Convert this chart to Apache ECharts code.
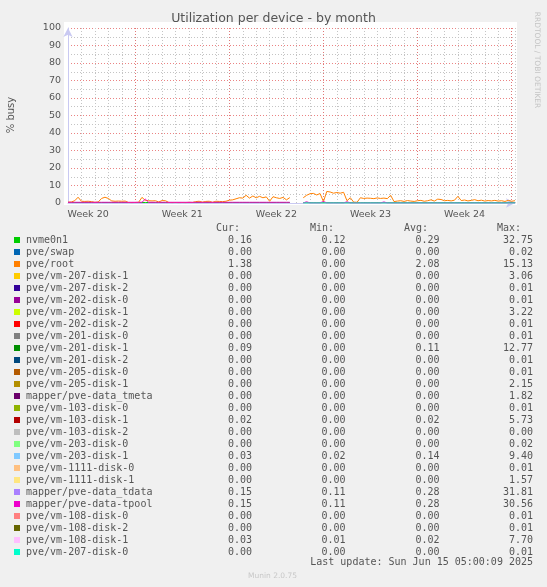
<!DOCTYPE html>
<html><head><meta charset="utf-8">
<script src="https://cdn.jsdelivr.net/npm/echarts@6/dist/echarts.min.js"></script>
<style>html,body{margin:0;padding:0;background:#f0f0f0;}#c{width:547px;height:587px;}</style>
</head><body><div id="c"></div>
<script>
// ---- legend table data ----
const deviceNames = ['nvme0n1','pve/swap','pve/root','pve/vm-207-disk-1','pve/vm-207-disk-2','pve/vm-202-disk-0','pve/vm-202-disk-1','pve/vm-202-disk-2','pve/vm-201-disk-0','pve/vm-201-disk-1','pve/vm-201-disk-2','pve/vm-205-disk-0','pve/vm-205-disk-1','mapper/pve-data_tmeta','pve/vm-103-disk-0','pve/vm-103-disk-1','pve/vm-103-disk-2','pve/vm-203-disk-0','pve/vm-203-disk-1','pve/vm-1111-disk-0','pve/vm-1111-disk-1','mapper/pve-data_tdata','mapper/pve-data-tpool','pve/vm-108-disk-0','pve/vm-108-disk-2','pve/vm-108-disk-1','pve/vm-207-disk-0'];
const deviceColors = ['#00CC00','#0066B3','#FF8000','#FFCC00','#330099','#990099','#CCFF00','#FF0000','#808080','#008F00','#00487D','#B35A00','#B38F00','#6B006B','#8FB300','#B30000','#BEBEBE','#80FF80','#80C9FF','#FFC080','#FFE680','#AA80FF','#EE00CC','#FF8080','#666600','#FFBFFF','#00FFCC'];
const curValues = ['0.16','0.00','1.38','0.00','0.00','0.00','0.00','0.00','0.00','0.09','0.00','0.00','0.00','0.00','0.00','0.02','0.00','0.00','0.03','0.00','0.00','0.15','0.15','0.00','0.00','0.03','0.00'];
const minValues = ['0.12','0.00','0.00','0.00','0.00','0.00','0.00','0.00','0.00','0.00','0.00','0.00','0.00','0.00','0.00','0.00','0.00','0.00','0.02','0.00','0.00','0.11','0.11','0.00','0.00','0.01','0.00'];
const avgValues = ['0.29','0.00','2.08','0.00','0.00','0.00','0.00','0.00','0.00','0.11','0.00','0.00','0.00','0.00','0.00','0.02','0.00','0.00','0.14','0.00','0.00','0.28','0.28','0.00','0.00','0.02','0.00'];
const maxValues = ['32.75','0.02','15.13','3.06','0.01','0.01','3.22','0.01','0.01','12.77','0.01','0.01','2.15','1.82','0.01','5.73','0.00','0.02','9.40','0.01','1.57','31.81','30.56','0.01','0.01','7.70','0.01'];
const columnHeaders = ['Cur:','Min:','Avg:','Max:'];

// ---- axis labels ----
const weekLabels = ['Week 20','Week 21','Week 22','Week 23','Week 24'];
const weekCenters = [-3.5, 3.5, 10.5, 17.5, 24.5]; // days relative to Monday of week 21
const weekStarts = [0, 7, 14, 21, 28];
const yLabelEvery = 10;

// ---- time series (6-hour samples, day offset from start) ----
const startDay = -5, stepDay = 0.25;
const rootValues = [
0.5,0.6,1.3,3.3,1.0,0.9,1.0,0.8,0.4,0.6,
2.6,3.3,2.6,1.2,1.0,1.1,1.0,1.1,0.3,0.2,
0.3,0.4,3.2,1.5,1.3,1.2,1.3,0.6,1.4,1.3,
0.3,0.2,0.3,0.2,0.3,0.2,0.4,0.3,0.8,1.0,
0.5,0.9,1.0,0.4,1.0,0.9,0.8,1.0,1.6,1.8,
2.4,3.0,2.8,4.4,2.8,4.0,3.0,3.8,3.0,3.5,
1.0,3.6,3.0,2.6,3.2,1.8,3.1,null,null,null,
3.0,4.4,5.3,5.5,4.6,5.4,0.8,6.6,6.3,5.6,
6.0,5.6,6.1,1.3,3.0,0.5,0.4,3.0,2.6,2.8,
2.7,2.5,2.9,2.6,2.8,2.5,4.4,0.8,1.1,1.3,
0.9,1.4,1.1,0.9,1.3,1.5,1.0,1.3,1.8,1.1,
2.2,2.0,1.3,1.5,1.2,1.6,3.8,1.4,1.7,1.2,
1.5,1.9,1.3,1.6,1.1,1.4,1.2,1.5,1.1,1.3,
0.9,1.5,1.0,1.3];
const nvmeValues = [
0.3,0.3,0.3,0.3,0.3,0.3,0.3,0.3,0.3,0.3,
0.3,0.3,0.3,0.3,0.3,0.3,0.3,0.3,0.3,0.3,
0.3,0.3,0.3,0.3,0.3,0.3,0.3,0.3,0.3,0.3,
0.3,0.3,0.3,0.3,0.3,0.3,0.3,0.3,0.3,0.3,
0.3,0.3,0.3,0.3,0.3,0.3,0.3,0.3,0.3,0.3,
0.3,0.3,0.3,0.3,0.3,0.3,0.3,0.3,0.3,0.3,
0.3,0.3,0.3,0.3,0.3,0.3,0.3,null,null,null,
0.15,0.15,0.15,0.15,0.15,0.15,0.15,0.15,0.15,0.15,
0.15,0.15,0.15,0.15,0.15,0.15,0.15,0.15,0.15,0.15,
0.15,0.15,0.15,0.15,0.15,0.15,0.15,0.15,0.15,0.15,
0.15,0.15,0.15,0.15,0.15,0.15,0.15,0.15,0.15,0.15,
0.15,0.15,0.15,0.15,0.15,0.15,0.15,0.15,0.15,0.15,
0.15,0.15,0.15,0.15,0.15,0.15,0.15,0.15,0.15,0.15,
0.15,0.15,0.15,0.15];
const tpoolValues = [
0.4,0.4,0.4,0.4,0.4,0.4,0.4,0.4,0.4,0.4,
0.4,0.4,0.4,0.4,0.4,0.4,0.4,0.4,0.4,0.4,
0.4,0.4,0.4,2.2,0.4,0.4,0.4,0.4,0.4,0.4,
0.4,0.4,0.4,0.4,0.4,0.4,0.4,0.4,0.4,0.4,
0.4,0.4,0.4,0.4,0.4,0.4,0.4,0.4,0.4,0.4,
0.4,0.4,0.4,0.4,0.4,0.4,0.4,0.4,0.4,0.4,
0.4,0.4,0.4,0.4,0.4,0.4,0.4,null,null,null,
0.05,0.7,0.05,0.05,0.05,0.05,0.9,0.05,0.05,0.05,
0.05,0.05,0.05,0.7,0.05,0.05,0.05,0.05,0.05,0.05,
0.05,0.05,0.05,0.05,0.6,0.05,0.05,0.05,0.05,0.05,
0.05,0.05,0.05,0.05,0.05,0.05,0.05,0.05,0.05,0.05,
0.05,0.05,0.05,0.05,0.05,0.05,0.05,0.05,0.05,0.05,
0.05,0.05,0.05,0.05,0.05,0.05,0.05,0.05,0.05,0.05,
0.05,0.05,0.05,0.05];
const vm207disk0Values = [
null,null,null,null,null,null,null,null,null,null,
null,null,null,null,null,null,null,null,null,null,
null,null,null,null,null,null,null,null,null,null,
null,null,null,null,null,null,null,null,null,null,
null,null,null,null,null,null,null,null,null,null,
null,null,null,null,null,null,null,null,null,null,
null,null,null,null,null,null,null,null,null,null,
0,0,0,0,0,0,0,0,0,0,
0,0,0,0,0,0,0,0,0,0,
0,0,0,0,0,0,0,0,0,0,
0,0,0,0,0,0,0,0,0,0,
0,0,0,0,0,0,0,0,0,0,
0,0,0,0,0,0,0,0,0,0,
0,0,0,0];

function toXY(arr){ return arr.map((v,i)=>[startDay + i*stepDay, v]); }

const FONT = '"DejaVu Sans", sans-serif';
const MONO = '"DejaVu Sans Mono", monospace';
const TXT = '#555';
const GRAY_GRID = '#c4c4c4';
const RED_GRID = 'rgba(230,100,100,0.8)';
const AXIS_COL = '#c9c9f2';

const seriesDefs = [
  {name:'nvme0n1', data:nvmeValues},
  {name:'pve/root', data:rootValues},
  {name:'mapper/pve-data-tpool', data:tpoolValues},
  {name:'pve/vm-207-disk-0', data:vm207disk0Values}
];

const series = seriesDefs.map((s,si) => {
  const c = deviceColors[deviceNames.indexOf(s.name)];
  const o = {
    type:'line', name:s.name, data:toXY(s.data), showSymbol:false, connectNulls:false,
    lineStyle:{width:1, color:c}, itemStyle:{color:c},
    xAxisIndex:0, yAxisIndex:0, animation:false, silent:true, z:3
  };
  if (si === 0) {
    o.markLine = {silent:true, symbol:['none','none'], label:{show:false}, z:1,
      lineStyle:{color:RED_GRID, type:[1,2], width:1},
      data: weekStarts.map(d=>({xAxis:d}))};
  }
  return o;
});

// legend graphics
const graphics = [
  {type:'rect', z:-10, shape:{x:64,y:22,width:453,height:183}, style:{fill:'#fff'}},
  {type:'text', x:273.5, y:19, style:{text:'Utilization per device - by month', font:'12.5px '+FONT, fill:TXT, textAlign:'center', textVerticalAlign:'middle'}},
  {type:'text', x:11, y:115, rotation:Math.PI/2, style:{text:'% busy', font:'10px '+FONT, fill:TXT, textAlign:'center', textVerticalAlign:'middle'}},
  {type:'text', x:537, y:60, rotation:-Math.PI/2, style:{text:'RRDTOOL / TOBI OETIKER', font:'7.5px '+FONT, fill:'#c4c4c4', textAlign:'center', textVerticalAlign:'middle'}},
  {type:'text', x:272.5, y:576, style:{text:'Munin 2.0.75', font:'7.5px '+FONT, fill:'#c8c8c8', textAlign:'center', textVerticalAlign:'middle'}},
  {type:'text', x:533, y:562, style:{text:'Last update: Sun Jun 15 05:00:09 2025', font:'10px '+MONO, fill:TXT, textAlign:'right', textVerticalAlign:'middle'}}
];
const headerRight = [240, 334, 428, 521];
const valueRight = [252, 345.5, 439.5, 533];
columnHeaders.forEach((h,k)=>graphics.push({type:'text', x:headerRight[k], y:228, style:{text:h, font:'10px '+MONO, fill:TXT, textAlign:'right', textVerticalAlign:'middle'}}));
deviceNames.forEach((n,i)=>{
  const y = 240 + 12*i;
  graphics.push({type:'rect', shape:{x:14,y:y-3,width:6,height:6}, style:{fill:deviceColors[i]}});
  graphics.push({type:'text', x:26, y:y, style:{text:n, font:'10px '+MONO, fill:TXT, textAlign:'left', textVerticalAlign:'middle'}});
  [curValues[i],minValues[i],avgValues[i],maxValues[i]].forEach((v,k)=>{
    graphics.push({type:'text', x:valueRight[k], y:y, style:{text:v, font:'10px '+MONO, fill:TXT, textAlign:'right', textVerticalAlign:'middle'}});
  });
});

const chart = echarts.init(document.getElementById('c'), null, {renderer:'canvas'});
chart.setOption({
  backgroundColor:'#f0f0f0',
  animation:false,
  grid:{left:68, right:32, top:28, bottom:384, show:true, backgroundColor:'#fff', borderWidth:0},
  xAxis:[
    {type:'value', min:-5, max:28.25, interval:1, position:'bottom',
     axisLabel:{show:false}, axisTick:{show:false},
     axisLine:{show:true, onZero:false, symbol:['none','arrow'], symbolSize:[7,9], lineStyle:{color:AXIS_COL, width:1}},
     splitLine:{show:true, lineStyle:{color:GRAY_GRID, type:[1,2], width:1}}},
    {type:'value', min:-5, max:28.25, interval:0.5, position:'bottom',
     axisLine:{show:false}, axisTick:{show:false}, splitLine:{show:false},
     axisLabel:{show:true, margin:7, fontSize:9.5, fontFamily:FONT, color:TXT,
       formatter:(v)=>{ const idx = weekCenters.findIndex(c=>Math.abs(c-v)<1e-6); return idx>=0 ? weekLabels[idx] : ''; }}}
  ],
  yAxis:{type:'value', min:0, max:100, interval:5,
    axisLine:{show:true, onZero:false, symbol:['none','arrow'], symbolSize:[7,9], lineStyle:{color:AXIS_COL, width:1}},
    axisTick:{show:false},
    axisLabel:{margin:7, fontSize:9.5, fontFamily:FONT, color:TXT, formatter:(v)=> (v % yLabelEvery === 0 ? String(v) : '')},
    splitLine:{show:true, lineStyle:{color:[RED_GRID, GRAY_GRID], type:[1,2], width:1}}},
  series: series,
  graphic: graphics
});
</script></body></html>
